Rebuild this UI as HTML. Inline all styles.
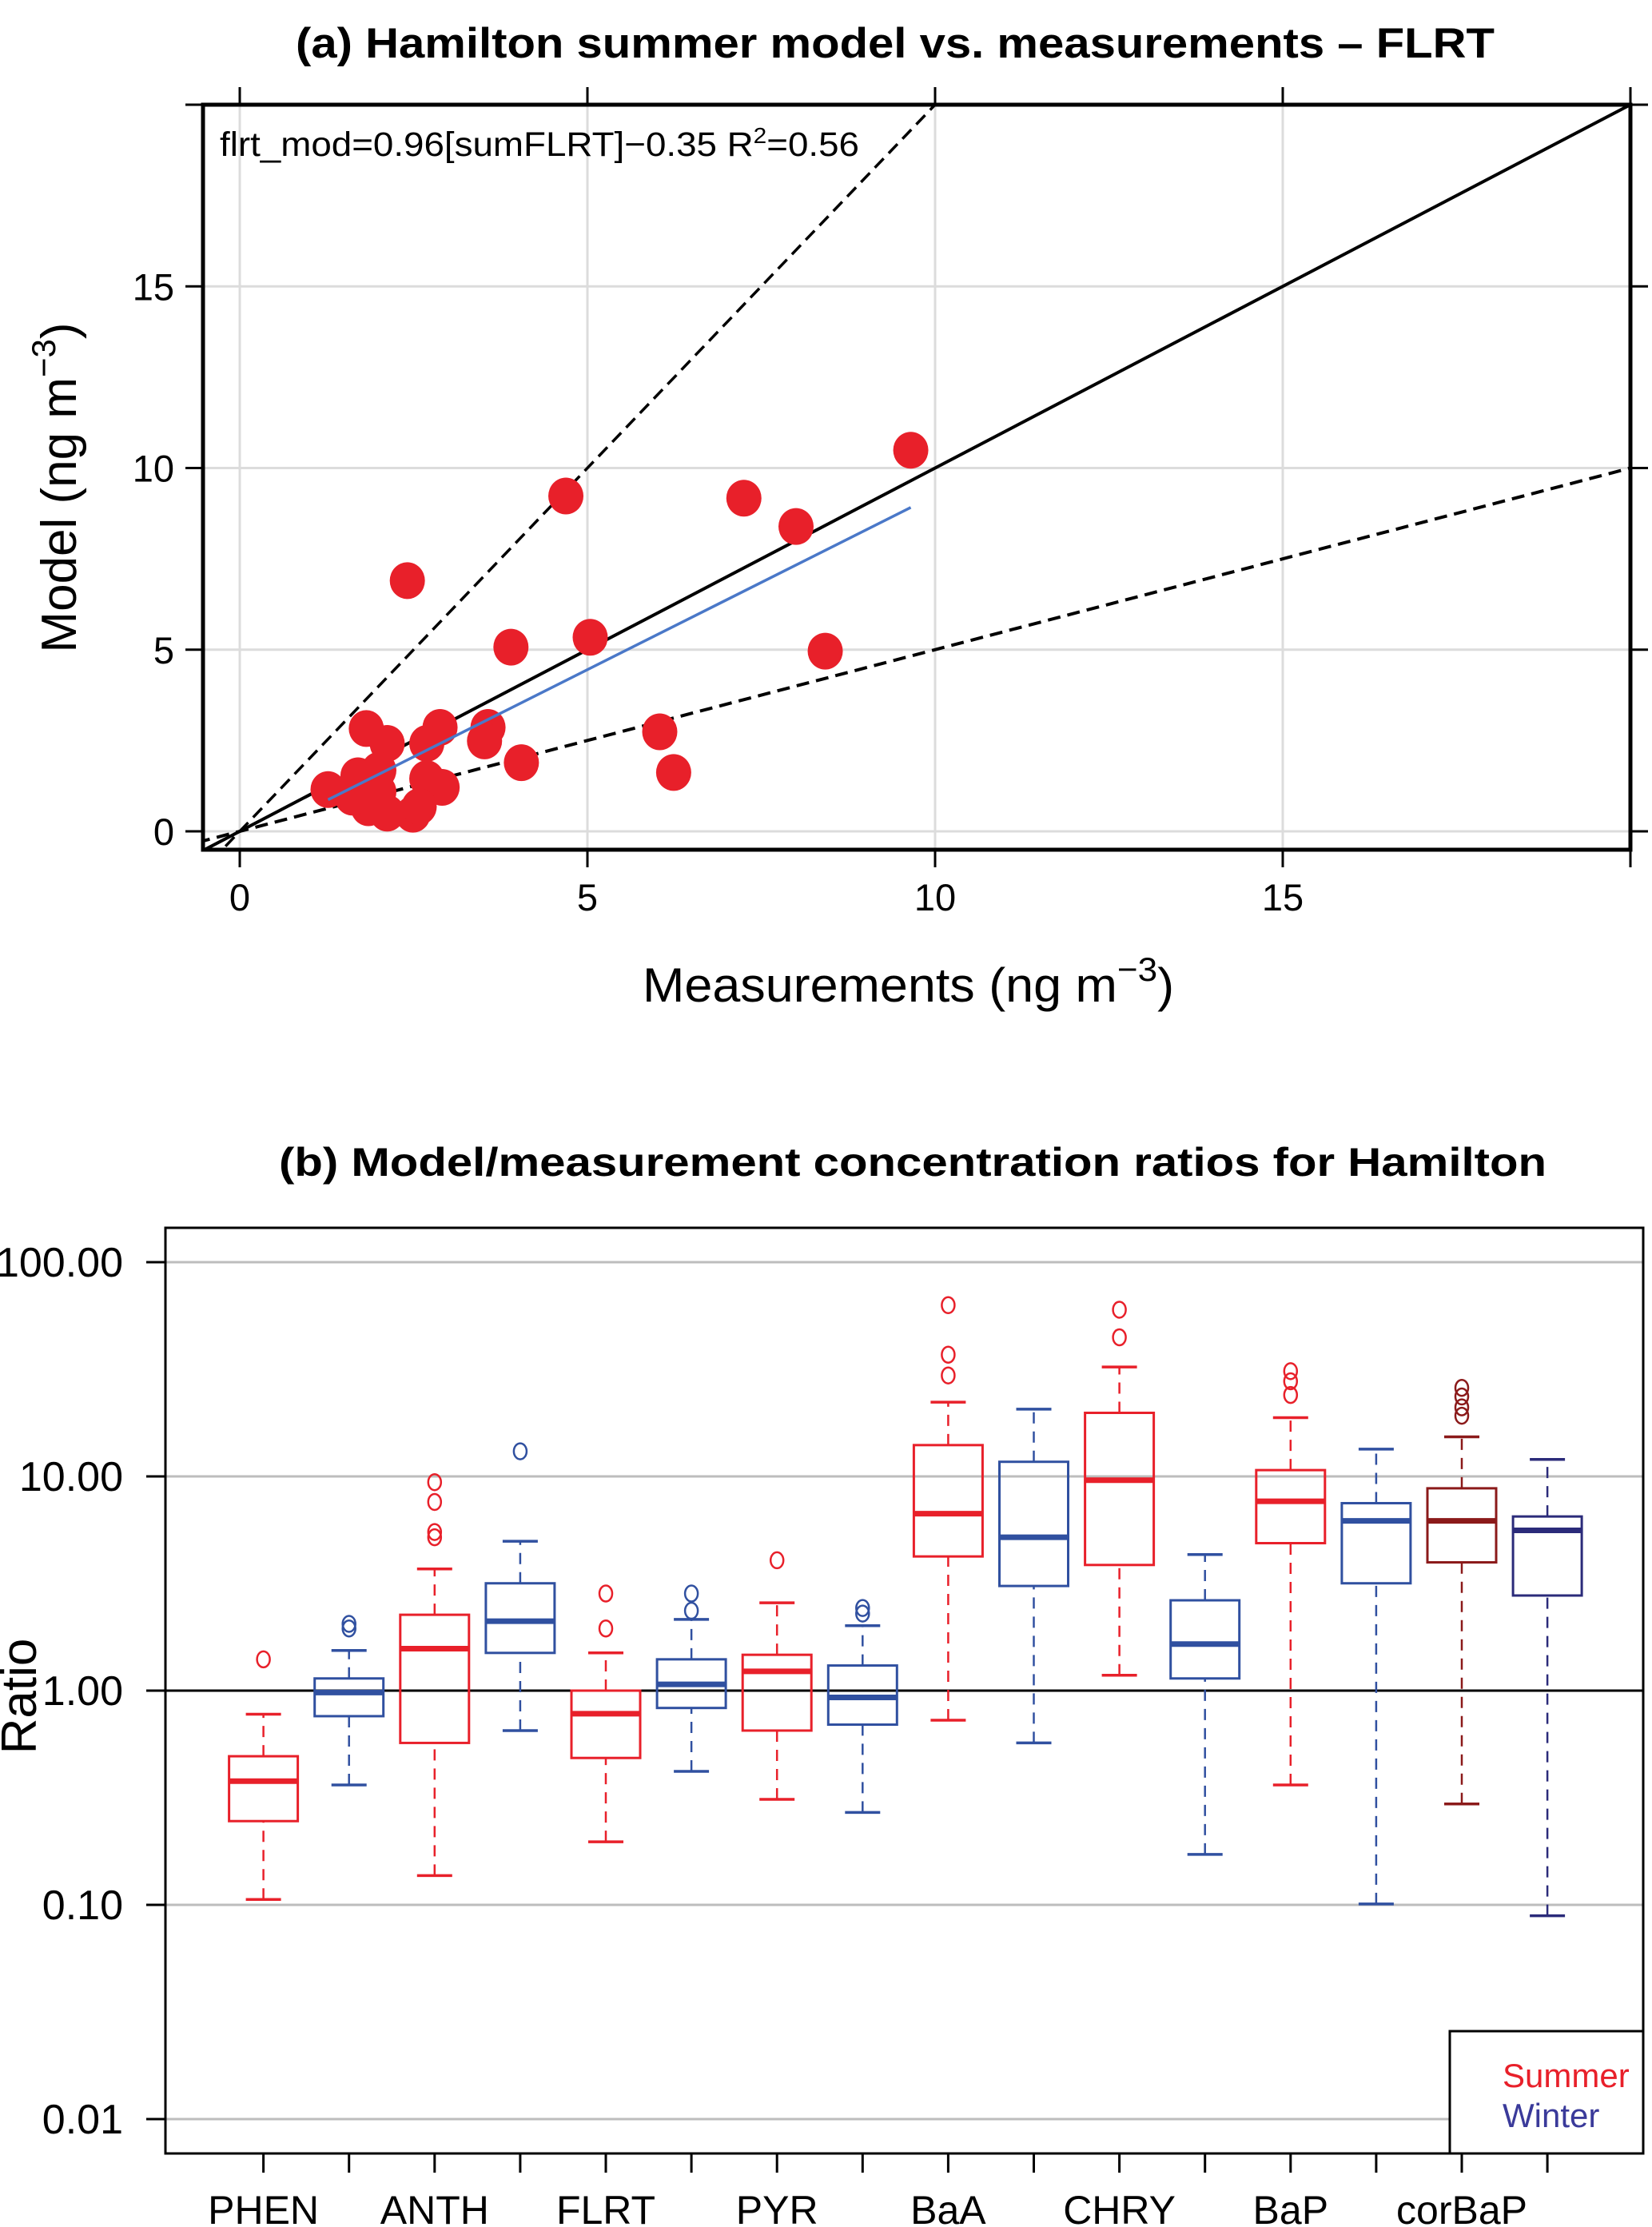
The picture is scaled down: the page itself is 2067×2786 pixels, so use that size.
<!DOCTYPE html>
<html><head><meta charset="utf-8"><style>
html,body{margin:0;padding:0;background:#fff;}
svg{display:block;font-family:"Liberation Sans",Arial,sans-serif;}
</style></head><body>
<svg id="fig" width="2067" height="2786" viewBox="0 0 2067 2786" xmlns="http://www.w3.org/2000/svg">
<g id="pa"></g>
<g id="pb"></g>
</svg>
<script>
// ---------- Panel (a) data ----------
const measX = [9.65,4.69,7.25,8.0,2.41,3.9,5.04,8.42,1.82,2.88,3.57,2.69,2.12,6.04,4.05,6.24,1.27,1.7,2.0,2.91,2.69,1.85,2.12,2.49,2.58,1.62,2.0,3.52];
const modY  = [10.49,9.23,9.17,8.39,6.90,5.07,5.34,4.96,2.83,2.86,2.86,2.42,2.42,2.74,1.89,1.62,1.15,1.53,1.68,1.21,1.45,0.65,0.50,0.47,0.68,0.94,1.09,2.49];
const xTicksA = [0,5,10,15,20];
const yTicksA = [0,5,10,15,20];
const fitSlope = 0.96, fitIntercept = -0.35;

// ---------- Panel (b) data ----------
const cats = ["PHEN","ANTH","FLRT","PYR","BaA","CHRY","BaP","corBaP"];
const seasons = ["Summer","Winter"];
const whiskLo = [0.106,0.363, 0.137,0.651, 0.197,0.42, 0.311,0.27, 0.728,0.57, 1.18,0.172, 0.363,0.101, 0.296,0.089];
const q1      = [0.246,0.76, 0.57,1.50, 0.485,0.83, 0.651,0.694, 4.23,3.08, 3.86,1.14, 4.88,3.17, 3.97,2.78];
const med     = [0.378,0.98, 1.57,2.11, 0.78,1.07, 1.23,0.93, 6.7,5.2, 9.6,1.65, 7.65,6.2, 6.2,5.6];
const q3      = [0.494,1.14, 2.26,3.17, 1.0,1.40, 1.47,1.31, 14.0,11.7, 19.8,2.64, 10.7,7.5, 8.8,6.5];
const whiskHi = [0.776,1.54, 3.7,4.98, 1.50,2.15, 2.57,2.01, 22.2,20.6, 32.4,4.32, 18.8,13.4, 15.3,12.0];
const outliers = [[1.40],[2.05,1.95],[9.4,7.6,5.5,5.2],[13.1],[2.84,1.95],[2.84,2.36],[4.06],[2.43,2.29],[63,37,29.6],[],[60,44.6],[],[31,27.8,24],[],[25.9,23.6,21,19.2],[]];
const yTicksB = [100,10,1,0.1,0.01];
const yTickLabelsB = ["100.00","10.00","1.00","0.10","0.01"];

const NS="http://www.w3.org/2000/svg";
function mk(parent,tag,attrs,text){const e=document.createElementNS(NS,tag);for(const k in attrs)e.setAttribute(k,attrs[k]);if(text!==undefined)e.textContent=text;parent.appendChild(e);return e;}

// ===== Panel A =====
const pa=document.getElementById('pa');
const AL=254,AR=2040,AT=131,AB=1063;
const ax=v=>300+v*87.0;
const ay=v=>1040-v*45.45;
let t=mk(pa,'text',{x:1120,y:72,'font-size':53,'font-weight':'bold','text-anchor':'middle',textLength:1500,lengthAdjust:'spacingAndGlyphs'},'(a) Hamilton summer model vs. measurements – FLRT');

xTicksA.forEach(v=>{const l=mk(pa,'line',{x1:ax(v),x2:ax(v),y1:AT,y2:AB,stroke:'#dcdcdc','stroke-width':3});
});
yTicksA.forEach(v=>{const l=mk(pa,'line',{x1:AL,x2:AR,y1:ay(v),y2:ay(v),stroke:'#dcdcdc','stroke-width':3});
});
const defs=mk(document.getElementById('fig'),'defs',{});
const cp=mk(defs,'clipPath',{id:'clipA'});mk(cp,'rect',{x:AL,y:AT,width:AR-AL,height:AB-AT});
const lines=mk(pa,'g',{'clip-path':'url(#clipA)'});

let l=mk(lines,'line',{x1:ax(-1),y1:ay(-1),x2:ax(21),y2:ay(21),stroke:'#000','stroke-width':4});

l=mk(lines,'line',{x1:ax(-1),y1:ay(-2),x2:ax(11),y2:ay(22),stroke:'#000','stroke-width':3.5,'stroke-dasharray':'16,9'});

l=mk(lines,'line',{x1:ax(-2),y1:ay(-1),x2:ax(22),y2:ay(11),stroke:'#000','stroke-width':4,'stroke-dasharray':'16,9'});

const minX=Math.min(...measX),maxX=Math.max(...measX);
measX.forEach((x,i)=>{const c=mk(pa,'ellipse',{cx:ax(x),cy:ay(modY[i]),rx:22,ry:23,fill:'#e8202a'});
});
l=mk(pa,'line',{x1:ax(minX),y1:ay(fitSlope*minX+fitIntercept),x2:ax(maxX),y2:ay(fitSlope*maxX+fitIntercept),stroke:'#4a78c8','stroke-width':3.5});

let r=mk(pa,'rect',{x:AL,y:AT,width:AR-AL,height:AB-AT,fill:'none',stroke:'#000','stroke-width':5});

xTicksA.forEach(v=>{const tk=mk(pa,'path',{d:`M${ax(v)},${AB}v22M${ax(v)},${AT}v-22`,stroke:'#000','stroke-width':3});

if(v<20){const tl=mk(pa,'text',{x:ax(v),y:1139,'font-size':47,'text-anchor':'middle'},String(v));
}});
yTicksA.forEach(v=>{const tk=mk(pa,'path',{d:`M${AL},${ay(v)}h-22M${AR},${ay(v)}h22`,stroke:'#000','stroke-width':3});

if(v<20){const tl=mk(pa,'text',{x:218,y:ay(v)+17,'font-size':47,'text-anchor':'end'},String(v));
}});
t=mk(pa,'text',{x:275,y:195,'font-size':43,textLength:800,lengthAdjust:'spacingAndGlyphs'});

t.innerHTML='flrt_mod=0.96[sumFLRT]−0.35 R<tspan dy="-16" font-size="28">2</tspan><tspan dy="16">=0.56</tspan>';
t=mk(pa,'text',{x:804,y:1253,'font-size':60,textLength:665,lengthAdjust:'spacingAndGlyphs'});

t.innerHTML='Measurements (ng m<tspan dy="-26" font-size="42">−3</tspan><tspan dy="26">)</tspan>';
t=mk(pa,'text',{x:0,y:0,'font-size':62,transform:'translate(95,610) rotate(-90)','text-anchor':'middle'});

t.innerHTML='Model (ng m<tspan dy="-26" font-size="42">−3</tspan><tspan dy="26">)</tspan>';

// ===== Panel B =====
const pb=document.getElementById('pb');
const BL=207,BR=2056,BT=1536,BB=2694;
const by=v=>2115-Math.log10(v)*268;
const bx=i=>329.6+i*107.1;
const colS=['#e8202a','#e8202a','#e8202a','#e8202a','#e8202a','#e8202a','#e8202a','#8b1a1a'];
const colW=['#3050a0','#3050a0','#3050a0','#3050a0','#3050a0','#3050a0','#3050a0','#2b2b7a'];
t=mk(pb,'text',{x:1142,y:1471,'font-size':50,'font-weight':'bold','text-anchor':'middle',textLength:1586,lengthAdjust:'spacingAndGlyphs'},'(b) Model/measurement concentration ratios for Hamilton');

yTicksB.forEach((v,i)=>{const g=mk(pb,'line',{x1:BL,x2:BR,y1:by(v),y2:by(v),stroke:'#bdbdbd','stroke-width':3});

const tk=mk(pb,'line',{x1:BL-24,x2:BL,y1:by(v),y2:by(v),stroke:'#000','stroke-width':3});

const tl=mk(pb,'text',{x:154,y:by(v)+18,'font-size':52,'text-anchor':'end'},yTickLabelsB[i]);
});
l=mk(pb,'line',{x1:BL,x2:BR,y1:by(1),y2:by(1),stroke:'#000','stroke-width':3});

for(let i=0;i<whiskLo.length;i++){
 const c=Math.floor(i/2),isS=i%2===0,col=isS?colS[c]:colW[c],x=bx(i),hw=43;
 const g=mk(pb,'g',{});
 
 
 mk(g,'line',{x1:x,x2:x,y1:by(whiskLo[i]),y2:by(q1[i]),stroke:col,'stroke-width':2.5,'stroke-dasharray':'14,10'});
 mk(g,'line',{x1:x,x2:x,y1:by(q3[i]),y2:by(whiskHi[i]),stroke:col,'stroke-width':2.5,'stroke-dasharray':'14,10'});
 mk(g,'line',{x1:x-22,x2:x+22,y1:by(whiskLo[i]),y2:by(whiskLo[i]),stroke:col,'stroke-width':3.5});
 mk(g,'line',{x1:x-22,x2:x+22,y1:by(whiskHi[i]),y2:by(whiskHi[i]),stroke:col,'stroke-width':3.5});
 mk(g,'rect',{x:x-hw,y:by(q3[i]),width:2*hw,height:by(q1[i])-by(q3[i]),fill:'none',stroke:col,'stroke-width':3});
 mk(g,'line',{x1:x-hw,x2:x+hw,y1:by(med[i]),y2:by(med[i]),stroke:col,'stroke-width':7});
 outliers[i].forEach(o=>mk(g,'ellipse',{cx:x,cy:by(o),rx:8,ry:10,fill:'none',stroke:col,'stroke-width':2.5}));
 const tk=mk(pb,'line',{x1:x,x2:x,y1:BB,y2:BB+24,stroke:'#000','stroke-width':3});
 
}
cats.forEach((n,c)=>{const tl=mk(pb,'text',{x:bx(2*c),y:2782,'font-size':50,'text-anchor':'middle'},n);
});
r=mk(pb,'rect',{x:BL,y:BT,width:BR-BL,height:BB-BT,fill:'none',stroke:'#000','stroke-width':3});

t=mk(pb,'text',{x:0,y:0,'font-size':62,transform:'translate(45,2122) rotate(-90)','text-anchor':'middle'},'Ratio');

const lg=mk(pb,'g',{});

mk(lg,'rect',{x:1814,y:2541,width:242,height:153,fill:'#fff',stroke:'#000','stroke-width':3});
t=mk(lg,'text',{x:1880,y:2611,'font-size':42,fill:'#e8202a'},'Summer');

t=mk(lg,'text',{x:1880,y:2661,'font-size':42,fill:'#3a3a9a'},'Winter');

</script>
</body></html>
